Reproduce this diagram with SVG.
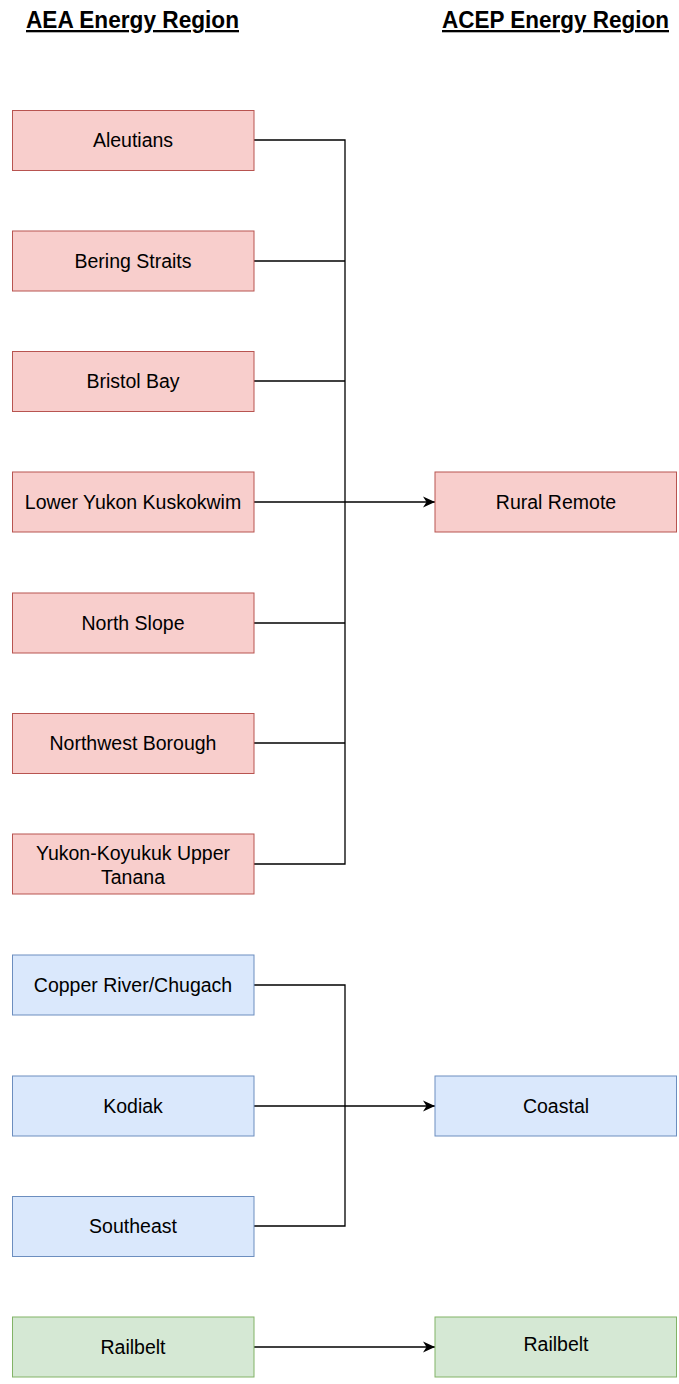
<svg xmlns="http://www.w3.org/2000/svg" width="679" height="1384" viewBox="0 0 679 1384">
<style>
.hdr{font-family:"Liberation Sans",Arial,sans-serif;font-weight:bold;font-size:23px;text-decoration:underline;text-anchor:middle}
.lbl{font-family:"Liberation Sans",Arial,sans-serif;font-size:19.5px;text-anchor:middle;fill:#000}
.red{fill:#f8cecc;stroke:#b85450;stroke-width:1}
.blue{fill:#dae8fc;stroke:#6c8ebf;stroke-width:1}
.green{fill:#d5e8d4;stroke:#82b366;stroke-width:1}
.edge{fill:none;stroke:#000;stroke-width:1.3}
</style>
<defs>
<marker id="arr" markerWidth="14" markerHeight="12" refX="12" refY="6" orient="auto" markerUnits="userSpaceOnUse">
<path d="M0,0.5 L12,6 L0,11.5 L3.5,6 Z" fill="#000"/>
</marker>
</defs>
<rect width="679" height="1384" fill="#fff"/>
<g id="headers">
<text class="hdr" x="132.5" y="28" textLength="213" lengthAdjust="spacingAndGlyphs">AEA Energy Region</text>
<text class="hdr" x="555.5" y="28" textLength="227" lengthAdjust="spacingAndGlyphs">ACEP Energy Region</text>
</g>
<g id="connectors">
<path class="edge" d="M254,140 H345 V864 H254"/>
<path class="edge" d="M254,261 H345"/>
<path class="edge" d="M254,381 H345"/>
<path class="edge" d="M254,623 H345"/>
<path class="edge" d="M254,743 H345"/>
<path class="edge" d="M254,502 H435" marker-end="url(#arr)"/>
<path class="edge" d="M254,985 H345 V1226 H254"/>
<path class="edge" d="M254,1106 H435" marker-end="url(#arr)"/>
<path class="edge" d="M254,1347 H435" marker-end="url(#arr)"/>
</g>
<g id="aleutians"><rect class="red" x="12.5" y="110.5" width="241.5" height="60"/><text class="lbl" x="133" y="147">Aleutians</text></g>
<g id="bering"><rect class="red" x="12.5" y="231" width="241.5" height="60"/><text class="lbl" x="133" y="268">Bering Straits</text></g>
<g id="bristol"><rect class="red" x="12.5" y="351.5" width="241.5" height="60"/><text class="lbl" x="133" y="388">Bristol Bay</text></g>
<g id="lyk"><rect class="red" x="12.5" y="472" width="241.5" height="60"/><text class="lbl" x="133" y="509">Lower Yukon Kuskokwim</text></g>
<g id="northslope"><rect class="red" x="12.5" y="593" width="241.5" height="60"/><text class="lbl" x="133" y="630">North Slope</text></g>
<g id="northwest"><rect class="red" x="12.5" y="713.5" width="241.5" height="60"/><text class="lbl" x="133" y="750">Northwest Borough</text></g>
<g id="yukon"><rect class="red" x="12.5" y="834" width="241.5" height="60"/><text class="lbl" x="133" y="860">Yukon-Koyukuk Upper</text><text class="lbl" x="133" y="884">Tanana</text></g>
<g id="rural"><rect class="red" x="435" y="472" width="241.5" height="60"/><text class="lbl" x="556" y="509">Rural Remote</text></g>
<g id="copper"><rect class="blue" x="12.5" y="955" width="241.5" height="60"/><text class="lbl" x="133" y="992">Copper River/Chugach</text></g>
<g id="kodiak"><rect class="blue" x="12.5" y="1076" width="241.5" height="60"/><text class="lbl" x="133" y="1113">Kodiak</text></g>
<g id="southeast"><rect class="blue" x="12.5" y="1196.5" width="241.5" height="60"/><text class="lbl" x="133" y="1233">Southeast</text></g>
<g id="coastal"><rect class="blue" x="435" y="1076" width="241.5" height="60"/><text class="lbl" x="556" y="1113">Coastal</text></g>
<g id="railbelt-aea"><rect class="green" x="12.5" y="1317" width="241.5" height="60"/><text class="lbl" x="133" y="1354">Railbelt</text></g>
<g id="railbelt-acep"><rect class="green" x="435" y="1317" width="241.5" height="60"/><text class="lbl" x="556" y="1351">Railbelt</text></g>
</svg>
